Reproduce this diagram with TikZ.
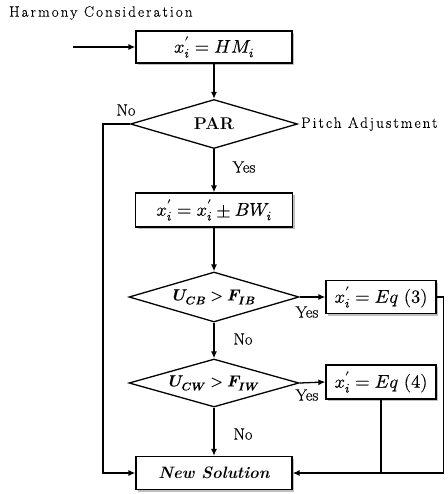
\documentclass[tikz,border=0pt]{standalone}
\usepackage{fontspec}
\usepackage{amsmath}
\usepackage{unicode-math}
\setmathfont{Latin Modern Math}[FakeBold=0.25]
\usetikzlibrary{shapes.geometric,arrows.meta,shadows}
\newfontfamily\spacedfont{Latin Modern Roman}[LetterSpace=14,FakeBold=0.3]
\newfontfamily\labelfont{Latin Modern Roman}[FakeBold=0.3]
\tikzset{
  base/.style={line width=1.3pt},
  arr/.style={base,-{Latex[length=7pt,width=6pt]}},
  procbox/.style={draw,base,fill=white,rectangle,inner sep=0pt,
    drop shadow={fill=black!25,opacity=1,shadow xshift=2pt,shadow yshift=-2pt}},
  decbox/.style={draw,base,fill=white,diamond,inner sep=0pt,aspect=3.4},
  lbl/.style={font=\fontsize{16.5}{19}\labelfont,inner sep=0pt},
  captiontext/.style={font=\fontsize{15}{18}\selectfont\spacedfont,inner sep=0pt},
  mathtext/.style={font=\fontsize{18.5}{21}\selectfont}
}
\begin{document}
\begin{tikzpicture}[x=1pt,y=-1pt]
\useasboundingbox (0,0) rectangle (447,494);
\node[captiontext,anchor=west] (title) at (9,13) {Harmony Consideration};
\coordinate (start) at (73,47);
\node[procbox,mathtext,minimum width=156pt,minimum height=32pt] (b1) at (214,47)
  {$x'_i = HM_i$};
\node[decbox,minimum width=167pt,minimum height=49pt] (par) at (214,124)
  {\fontsize{17}{19}\selectfont\bfseries PAR};
\node[captiontext,anchor=west] (pitch) at (301,124) {Pitch Adjustment};
\node[procbox,mathtext,minimum width=157pt,minimum height=34pt] (b2) at (214,210)
  {$x'_i = x'_i \pm BW_i$};
\node[decbox,minimum width=170pt,minimum height=50pt] (d2) at (214,297)
  {\fontsize{16}{18}\selectfont $\symbfit{U}_{\symbfit{CB}} > \symbfit{F}_{\symbfit{IB}}$};
\node[procbox,mathtext,minimum width=110pt,minimum height=33pt] (b3) at (381,297)
  {$x'_i = Eq\ (3)$};
\node[decbox,minimum width=170pt,minimum height=48pt] (d3) at (214,383)
  {\fontsize{16}{18}\selectfont $\symbfit{U}_{\symbfit{CW}} > \symbfit{F}_{\symbfit{IW}}$};
\node[procbox,mathtext,minimum width=110pt,minimum height=34pt] (b4) at (381,382)
  {$x'_i = Eq\ (4)$};
\node[procbox,minimum width=156pt,minimum height=33pt] (ns) at (214,473)
  {\fontsize{16.5}{19}\selectfont\bfseries\itshape New Solution};
% labels
\node[lbl] (lno1) at (126,110) {No};
\node[lbl] (lyes1) at (244,167) {Yes};
\node[lbl] (lyes2) at (307,312) {Yes};
\node[lbl] (lno2) at (243,339) {No};
\node[lbl] (lyes3) at (307,395) {Yes};
\node[lbl] (lno3) at (243,434) {No};
% connectors
\draw[arr] (start) -- (b1.west);
\draw[arr] (b1.south) -- (par.north);
\draw[arr] (par.south) -- (b2.north);
\draw[arr] (b2.south) -- (d2.north);
\draw[arr] (d2.east) -- (b3.west);
\draw[arr] (d2.south) -- (d3.north);
\draw[arr] (d3.east) -- (b4.west);
\draw[arr] (d3.south) -- (ns.north);
\draw[arr] (par.west) -- ([xshift=-27pt]par.west) |- (ns.west);
\draw[arr] (b3.east) -- ([xshift=7pt]b3.east) |- (ns.east);
\draw[base] (b4.south) -- (b4.south |- ns.east);
\end{tikzpicture}
\end{document}
